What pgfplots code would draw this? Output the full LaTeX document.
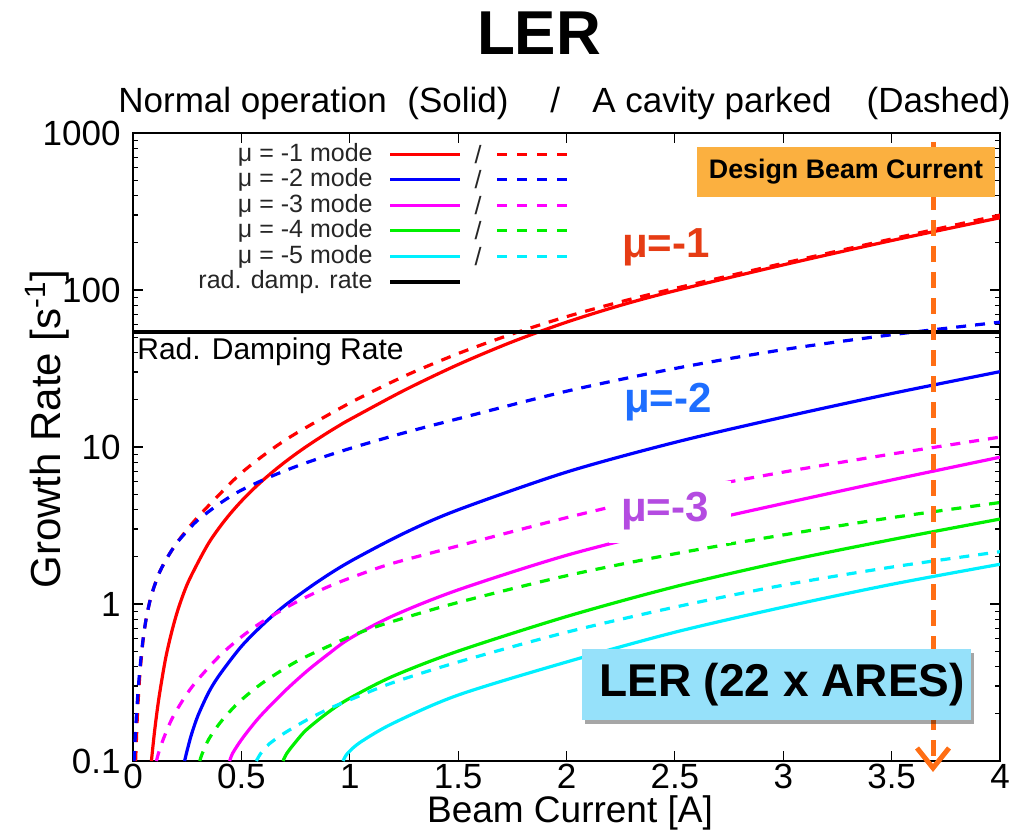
\documentclass[border=0pt]{standalone}
\usepackage{pgfplots}
\pgfplotsset{compat=1.18}
\usepackage{pgfplotstable}
\usepackage{fontspec}
\setmainfont{Liberation Sans}
\usetikzlibrary{arrows.meta,shadows}
\definecolor{cred}{RGB}{255,0,0}
\definecolor{cblue}{RGB}{0,0,255}
\definecolor{cmag}{RGB}{255,0,255}
\definecolor{cgreen}{RGB}{0,240,0}
\definecolor{ccyan}{RGB}{0,240,255}
\definecolor{lab1}{RGB}{230,60,20}
\definecolor{lab2}{RGB}{30,110,255}
\definecolor{lab3}{RGB}{180,75,225}
\definecolor{obox}{RGB}{251,176,64}
\definecolor{oarrow}{RGB}{255,110,20}
\definecolor{lbox}{RGB}{150,225,250}

\pgfplotstableread{
x y
0.085 0.1
0.10 0.1567
0.12 0.254
0.15 0.447
0.18 0.676
0.21 0.944
0.25 1.334
0.30 1.841
0.35 2.455
0.40 3.090
0.45 3.780
0.50 4.519
0.55 5.309
0.60 6.152
0.65 7.047
0.70 7.998
0.75 9.006
0.80 10.07
0.85 11.19
0.90 12.39
0.95 13.65
1.00 14.96
1.25 22.91
1.50 33.50
1.75 46.77
2.00 62.37
2.25 79.89
2.50 98.86
3.00 144.5
3.50 206.5
4.00 288.4
}\redsolid
\pgfplotstableread{
x y
0.012 0.1
0.02 0.1905
0.03 0.3311
0.045 0.5623
0.06 0.7943
0.08 1.072
0.10 1.318
0.125 1.622
0.16 1.995
0.20 2.427
0.25 2.985
0.30 3.589
0.40 5.012
0.50 6.839
0.625 9.333
0.75 12.16
1.00 19.05
1.25 28.18
1.50 39.36
1.75 52.48
2.00 67.61
2.25 84.14
2.50 102.3
3.00 147.9
3.50 211.3
4.00 299.9
}\reddash
\pgfplotstableread{
x y
0.005 0.1
0.012 0.1585
0.02 0.2399
0.03 0.3631
0.045 0.5754
0.06 0.7943
0.08 1.072
0.10 1.318
0.125 1.622
0.16 1.995
0.20 2.427
0.25 2.917
0.30 3.428
0.40 4.365
0.50 5.309
0.65 6.607
0.80 7.943
1.00 9.772
1.25 12.30
1.50 15.14
2.00 22.65
2.50 31.62
3.00 41.69
3.50 51.88
4.00 62.37
}\bluedash
\pgfplotstableread{
x y
0.238 0.1
0.25 0.117
0.27 0.148
0.30 0.195
0.35 0.275
0.40 0.355
0.50 0.537
0.60 0.741
0.70 0.977
0.85 1.38
1.00 1.86
1.25 2.82
1.50 3.98
2.00 6.92
2.50 10.7
3.00 15.5
3.50 21.9
4.00 30.2
}\bluesolid
\pgfplotstableread{
x y
0.108 0.1
0.12 0.115
0.14 0.138
0.17 0.174
0.20 0.209
0.25 0.269
0.30 0.331
0.40 0.468
0.50 0.617
0.60 0.776
0.75 1.023
0.90 1.288
1.05 1.549
1.20 1.820
1.50 2.344
2.00 3.548
2.50 5.129
3.00 6.918
3.50 9.02
4.00 11.56
}\magdash
\pgfplotstableread{
x y
0.446 0.1
0.46 0.1122
0.50 0.1365
0.55 0.1679
0.60 0.2018
0.70 0.2786
0.80 0.3715
0.90 0.4786
1.00 0.6026
1.20 0.8414
1.50 1.230
2.00 2.042
2.50 3.055
3.00 4.365
3.50 6.166
4.00 8.610
}\magsolid
\pgfplotstableread{
x y
0.308 0.1
0.32 0.112
0.35 0.138
0.40 0.174
0.45 0.209
0.50 0.245
0.60 0.316
0.75 0.427
0.90 0.537
1.05 0.661
1.20 0.776
1.50 1.023
2.00 1.514
2.50 2.089
3.00 2.754
3.50 3.548
4.00 4.43
}\greendash
\pgfplotstableread{
x y
0.692 0.1
0.71 0.112
0.75 0.132
0.80 0.158
0.90 0.204
1.00 0.251
1.20 0.347
1.50 0.501
2.00 0.832
2.50 1.288
3.00 1.862
3.50 2.570
4.00 3.475
}\greensolid
\pgfplotstableread{
x y
0.569 0.1
0.59 0.112
0.63 0.129
0.70 0.151
0.80 0.182
0.90 0.214
1.00 0.245
1.20 0.316
1.50 0.427
2.00 0.661
2.50 0.955
3.00 1.318
3.50 1.718
4.00 2.153
}\cyandash
\pgfplotstableread{
x y
0.969 0.1
0.99 0.112
1.05 0.132
1.20 0.174
1.50 0.263
2.00 0.427
2.50 0.661
3.00 0.955
3.50 1.334
4.00 1.791
}\cyansolid

\tikzset{dsh/.style={dash pattern=on 5pt off 4.5pt}}

\begin{document}
\begin{tikzpicture}
\path[use as bounding box] (-66.5pt,-35.5pt) rectangle (442.5pt,380.5pt);
\begin{axis}[
  at={(0pt,0pt)}, anchor=south west, scale only axis,
  width=433.5pt, height=314pt,
  xmin=0, xmax=4, ymin=0.1, ymax=1000, ymode=log,
  xtick={0,0.5,1,1.5,2,2.5,3,3.5,4},
  xticklabels={0,0.5,1,1.5,2,2.5,3,3.5,4},
  ytick={0.1,1,10,100,1000},
  yticklabels={0.1,1,10,100,1000},
  minor ytick={0.2,0.3,0.4,0.5,0.6,0.7,0.8,0.9,2,3,4,5,6,7,8,9,20,30,40,50,60,70,80,90,200,300,400,500,600,700,800,900},
  tick align=inside,
  major tick length=5pt, minor tick length=2.5pt,
  tick style={black, line width=0.6pt},
  axis line style={line width=1pt},
  xticklabel style={font=\fontsize{17.5}{20}\selectfont, inner sep=0pt, yshift=-1.5pt},
  yticklabel style={font=\fontsize{17.5}{20}\selectfont, inner sep=0pt, xshift=-6pt},
  /pgf/number format/assume math mode=true,
  every axis plot/.append style={line width=1.6pt, smooth, tension=0.5},
]
\addplot[cred] table {\redsolid};
\addplot[cred, dsh] table {\reddash};
\addplot[cblue] table {\bluesolid};
\addplot[cblue, dsh] table {\bluedash};
\addplot[cmag] table {\magsolid};
\addplot[cmag, dsh] table {\magdash};
\addplot[cgreen] table {\greensolid};
\addplot[cgreen, dsh] table {\greendash};
\addplot[ccyan] table {\cyansolid};
\addplot[ccyan, dsh] table {\cyandash};
\addplot[black, line width=2pt] coordinates {(0,54) (4,54)};
\end{axis}

% legend
\foreach \yy/\cc/\tt in {303.3/cred/{μ = -1 mode}, 290.55/cblue/{μ = -2 mode}, 277.8/cmag/{μ = -3 mode}, 265.05/cgreen/{μ = -4 mode}, 252.3/ccyan/{μ = -5 mode}}{
  \node[anchor=east, inner sep=0pt, text=black!85, font=\fontsize{12.5}{14}\selectfont] at (120pt,\yy pt) {\tt};
  \draw[\cc, line width=1.6pt] (128.5pt,\yy pt) -- (163.5pt,\yy pt);
  \node[text=black!85, font=\fontsize{12.5}{14}\selectfont] at (172.5pt,\yy pt) {/};
  \draw[\cc, line width=1.6pt, dash pattern=on 5pt off 5pt] (182pt,\yy pt) -- (217.5pt,\yy pt);
}
\node[anchor=east, inner sep=0pt, text=black!85, font=\fontsize{12.5}{14}\selectfont] at (120pt,239.55pt) {rad. damp. rate};
\draw[black, line width=2pt] (128.5pt,239.55pt) -- (163.5pt,239.55pt);

\node[anchor=west, inner sep=0pt, font=\fontsize{15}{17}\selectfont] at (2pt,204.5pt) {Rad. Damping Rate};

% mode labels
\node[font=\bfseries\fontsize{21}{24}\selectfont, text=lab1] at (266.5pt,257pt) {μ=-1};
\node[font=\bfseries\fontsize{21}{24}\selectfont, text=lab2] at (267.5pt,179.5pt) {μ=-2};
\fill[white] (238pt,109pt) rectangle (299pt,140pt);
\node[font=\bfseries\fontsize{21}{24}\selectfont, text=lab3] at (266pt,125pt) {μ=-3};

% design current arrow
\draw[oarrow, line width=2.5pt, dash pattern=on 8pt off 5pt, -{Straight Barb[length=10pt,width=16pt,line width=2.5pt]}] (400pt,309.5pt) -- (400pt,-5.5pt);
\node[fill=obox, minimum width=149pt, minimum height=25pt, inner sep=0pt, font=\bfseries\fontsize{13.4}{15}\selectfont] at (356.5pt,294.5pt) {Design Beam Current};
\node[fill=lbox, minimum width=194.5pt, minimum height=35.5pt, inner sep=0pt, drop shadow={shadow xshift=1.5pt, shadow yshift=-2pt, fill=black, opacity=0.35}] at (321.75pt,38.25pt) {};
\node[font=\bfseries\fontsize{23}{26}\selectfont] at (324.5pt,38.25pt) {LER (22 x ARES)};

% titles
\node[font=\bfseries\fontsize{31}{36}\selectfont] at (203pt,364pt) {LER};
\node[anchor=base west, inner sep=0pt, font=\fontsize{17.5}{20}\selectfont] at (-7.5pt,324pt) {Normal operation};
\node[anchor=base west, inner sep=0pt, font=\fontsize{17.5}{20}\selectfont] at (137pt,324pt) {(Solid)};
\node[anchor=base west, inner sep=0pt, font=\fontsize{17.5}{20}\selectfont] at (208.5pt,324pt) {/};
\node[anchor=base west, inner sep=0pt, font=\fontsize{17.5}{20}\selectfont] at (229.5pt,324pt) {A cavity parked};
\node[anchor=base east, inner sep=0pt, font=\fontsize{17.5}{20}\selectfont] at (439pt,324pt) {(Dashed)};

% axis labels
\node[rotate=90, font=\fontsize{21}{24}\selectfont] at (-43pt,166pt) {Growth Rate [s\textsuperscript{-1}]};
\node[font=\fontsize{18.5}{21}\selectfont] at (218.5pt,-26pt) {Beam Current [A]};
\end{tikzpicture}
\end{document}
